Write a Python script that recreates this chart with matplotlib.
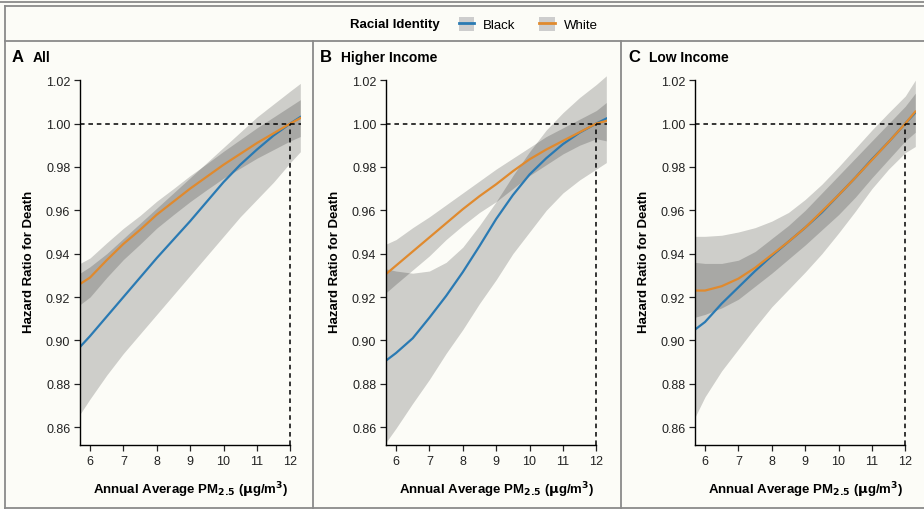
import matplotlib
matplotlib.use("Agg")
import matplotlib.pyplot as plt
from matplotlib.lines import Line2D
from matplotlib.patches import Patch
from matplotlib.legend_handler import HandlerTuple

plt.rcParams['font.family'] = ['Liberation Sans', 'DejaVu Sans']

pm = [5.7, 6, 6.5, 7, 7.5, 8, 8.5, 9, 9.5, 10, 10.5, 11, 11.5, 12, 12.3]

# panel A: all
a_black = [0.897, 0.902, 0.911, 0.920, 0.929, 0.938, 0.9465, 0.955, 0.964, 0.973, 0.981, 0.988, 0.9945, 1.000, 1.003]
a_black_lo = [0.866, 0.873, 0.884, 0.894, 0.903, 0.912, 0.921, 0.930, 0.939, 0.948, 0.957, 0.965, 0.973, 0.982, 0.987]
a_black_hi = [0.931, 0.934, 0.940, 0.947, 0.954, 0.961, 0.968, 0.975, 0.982, 0.989, 0.996, 1.003, 1.009, 1.015, 1.0185]
a_white = [0.926, 0.929, 0.937, 0.9445, 0.951, 0.958, 0.964, 0.970, 0.9755, 0.981, 0.986, 0.991, 0.9955, 1.000, 1.0025]
a_white_lo = [0.9165, 0.920, 0.929, 0.9373, 0.9444, 0.9518, 0.958, 0.964, 0.9695, 0.9748, 0.9794, 0.984, 0.988, 0.992, 0.994]
a_white_hi = [0.9355, 0.938, 0.945, 0.9517, 0.9576, 0.9642, 0.970, 0.976, 0.9815, 0.9872, 0.9926, 0.998, 1.003, 1.008, 1.011]

# panel B: higher income
b_black = [0.8907, 0.8942, 0.901, 0.9105, 0.9205, 0.9315, 0.9435, 0.956, 0.967, 0.9765, 0.984, 0.9905, 0.9958, 1.000, 1.0023]
b_black_lo = [0.853, 0.8595, 0.871, 0.882, 0.894, 0.905, 0.917, 0.928, 0.940, 0.950, 0.960, 0.968, 0.974, 0.979, 0.982]
b_black_hi = [0.933, 0.932, 0.931, 0.932, 0.936, 0.943, 0.953, 0.964, 0.976, 0.987, 0.997, 1.005, 1.012, 1.018, 1.022]
b_white = [0.9306, 0.9345, 0.941, 0.9475, 0.954, 0.9605, 0.9665, 0.972, 0.978, 0.9835, 0.988, 0.992, 0.996, 1.000, 1.0012]
b_white_lo = [0.922, 0.926, 0.9325, 0.939, 0.9465, 0.953, 0.959, 0.964, 0.970, 0.976, 0.981, 0.986, 0.990, 0.993, 0.992]
b_white_hi = [0.9444, 0.9465, 0.952, 0.957, 0.9625, 0.968, 0.9735, 0.979, 0.984, 0.989, 0.994, 0.998, 1.002, 1.006, 1.0097]

# panel C: low income
c_black = [0.905, 0.9085, 0.917, 0.9245, 0.932, 0.939, 0.9455, 0.952, 0.959, 0.967, 0.975, 0.9835, 0.9915, 1.000, 1.005]
c_black_lo = [0.8646, 0.874, 0.886, 0.896, 0.906, 0.9155, 0.9235, 0.9315, 0.940, 0.9495, 0.9595, 0.970, 0.979, 0.9866, 0.9894]
c_black_hi = [0.948, 0.948, 0.9485, 0.950, 0.952, 0.955, 0.959, 0.965, 0.972, 0.980, 0.9885, 0.997, 1.005, 1.0127, 1.020]
c_white = [0.923, 0.923, 0.925, 0.9285, 0.9335, 0.9395, 0.9455, 0.952, 0.9595, 0.967, 0.975, 0.9832, 0.9915, 1.000, 1.0055]
c_white_lo = [0.9107, 0.912, 0.915, 0.919, 0.925, 0.931, 0.9375, 0.944, 0.951, 0.958, 0.966, 0.975, 0.9835, 0.992, 0.996]
c_white_hi = [0.936, 0.9355, 0.9355, 0.937, 0.941, 0.947, 0.953, 0.960, 0.968, 0.976, 0.984, 0.992, 1.000, 1.008, 1.014]

panels = [
    ("A", "All", a_black, a_black_lo, a_black_hi, a_white, a_white_lo, a_white_hi),
    ("B", "Higher Income", b_black, b_black_lo, b_black_hi, b_white, b_white_lo, b_white_hi),
    ("C", "Low Income", c_black, c_black_lo, c_black_hi, c_white, c_white_lo, c_white_hi),
]

blue = '#2a7ab3'
orange = '#e08a2e'
bg = '#fcfcf7'
frame = '#8a8a8a'
W, H = 924, 510

fig = plt.figure(figsize=(9.24, 5.1), dpi=100, facecolor=bg)

# axes positions in pixels: left edge, right edge
ax_px = [(80, 301), (386, 607), (695, 916)]
top_px, bot_px = 76.8, 446
panel_left = [5, 313, 621]

for (letter, name, bl, bl_lo, bl_hi, wh, wh_lo, wh_hi), (l, r), pl in zip(panels, ax_px, panel_left):
    ax = fig.add_axes([l / W, 1 - bot_px / H, (r - l) / W, (bot_px - top_px) / H])
    ax.set_facecolor(bg)
    ax.fill_between(pm, bl_lo, bl_hi, color='black', alpha=0.18, lw=0)
    ax.fill_between(pm, wh_lo, wh_hi, color='black', alpha=0.18, lw=0)
    ax.plot(pm, bl, color=blue, lw=1.6)
    ax.plot(pm, wh, color=orange, lw=1.6)
    ax.axhline(1.0, color='black', ls=(0, (3, 2.5)), lw=1.1)
    ax.plot([12, 12], [0.8518, 1.0], color='black', ls=(0, (3, 2.5)), lw=1.1)
    ax.set_xlim(5.7, 12.32)
    ax.set_ylim(0.8518, 1.022)
    ax.set_xticks(range(6, 13))
    ax.set_yticks([0.86, 0.88, 0.90, 0.92, 0.94, 0.96, 0.98, 1.00, 1.02])
    ax.set_yticklabels([f"{v:.2f}" for v in ax.get_yticks()])
    ax.spines['top'].set_visible(False)
    ax.spines['right'].set_visible(False)
    ax.spines['left'].set_bounds(0.8518, 1.02)
    ax.spines['bottom'].set_bounds(5.7, 12)
    for s in ('left', 'bottom'):
        ax.spines[s].set_linewidth(1.0)
    ax.tick_params(direction='out', length=4, width=0.9, labelsize=9, colors='#222222', pad=3)
    ax.set_ylabel("Hazard Ratio for Death", fontsize=9.5, fontweight='bold', labelpad=8)
    ax.set_xlabel(r"Annual Average PM$_{\mathbf{2.5}}$ ($\mathbf{\mu}$g/m$^{\mathbf{3}}$)",
                  fontsize=9.5, fontweight='bold', labelpad=9)
    fig.text((pl + 7) / W, 1 - 58 / H, letter, fontsize=12, fontweight='bold', va='center')
    fig.text((pl + 28) / W, 1 - 58 / H, name, fontsize=10, fontweight='bold', va='center')

# frame lines
def hline(y, x0=0, x1=W):
    fig.add_artist(Line2D([x0 / W, x1 / W], [1 - y / H, 1 - y / H], color=frame, lw=1.3))

def vline(x, y0, y1=H):
    fig.add_artist(Line2D([x / W, x / W], [1 - y0 / H, 1 - y1 / H], color=frame, lw=1.3))

hline(3.3)
hline(7.3, 5)
hline(42, 5)
hline(509, 5)
vline(5, 7.3)
vline(313, 42)
vline(621, 42)

# legend
fig.text(395 / W, 1 - 25 / H, "Racial Identity", fontsize=9.5, fontweight='bold', ha='center', va='center')
box = '#cdcdcd'
handles = [(Patch(facecolor=box, edgecolor='none'), Line2D([], [], color=blue, lw=2)),
           (Patch(facecolor=box, edgecolor='none'), Line2D([], [], color=orange, lw=2))]
fig.legend(handles, ["Black", "White"], handler_map={tuple: HandlerTuple(ndivide=1, pad=0)},
           loc='center left', bbox_to_anchor=(447 / W, 1 - 25 / H), ncol=2, frameon=False,
           fontsize=9.5, handlelength=1.15, handleheight=1.3, handletextpad=0.7, columnspacing=1.8)

fig.savefig("out.png", dpi=100, facecolor=bg)
